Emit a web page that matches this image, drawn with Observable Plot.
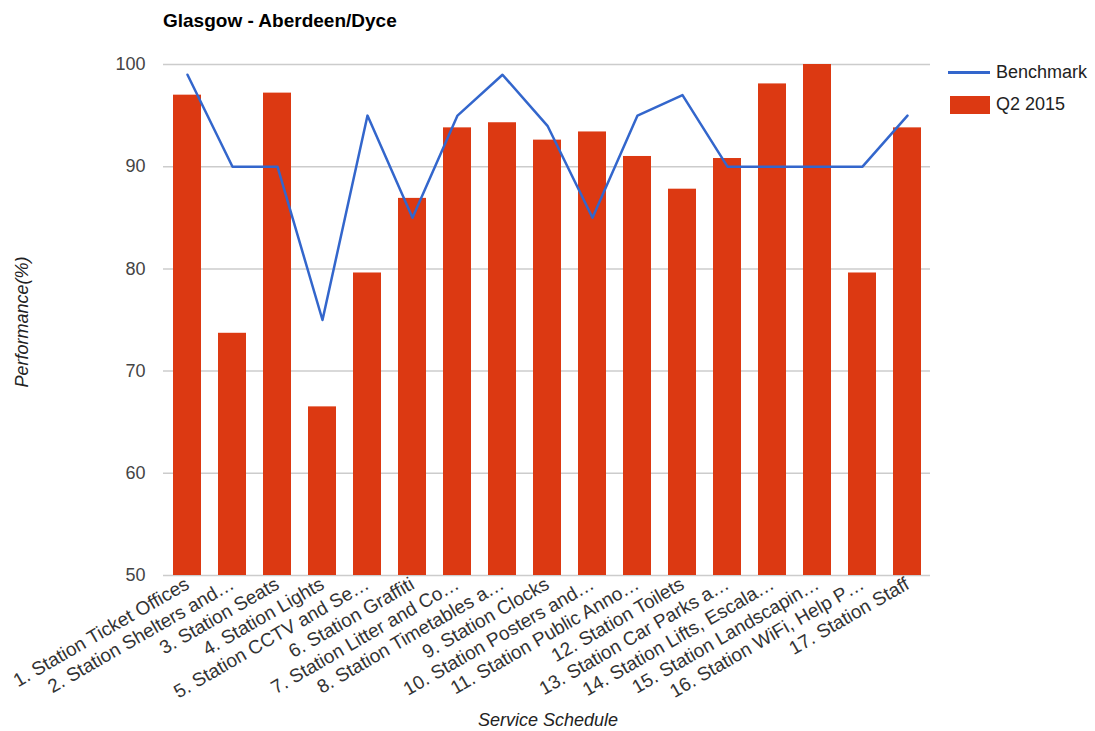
<!DOCTYPE html>
<html>
<head>
<meta charset="utf-8">
<script src="https://cdn.jsdelivr.net/npm/d3@7"></script>
<script src="https://cdn.jsdelivr.net/npm/@observablehq/plot@0.6"></script>
<style>
  html, body { margin: 0; padding: 0; background: #fff; }
  #wrap { position: relative; width: 1095px; height: 731px; font-family: "Liberation Sans", Arial, sans-serif; }
  .abs { position: absolute; white-space: nowrap; }
  #title { left: 163px; top: 10px; font-size: 19px; font-weight: bold; color: #000; }
  #ytitle { left: 22px; top: 322px; font-size: 18px; font-style: italic; color: #222; transform: translate(-50%, -50%) rotate(-90deg); }
  #xtitle { left: 548px; top: 720px; font-size: 18px; font-style: italic; color: #222; transform: translate(-50%, -50%); }
  .leg { font-size: 18px; color: #222; }
</style>
</head>
<body>
<div id="wrap">
  <div id="chart"></div>
  <div id="title" class="abs">Glasgow - Aberdeen/Dyce</div>
  <div id="ytitle" class="abs">Performance(%)</div>
  <div id="xtitle" class="abs">Service Schedule</div>
  <div class="abs" style="left:948px; top:71px; width:42px; height:3px; background:#3366cc;"></div>
  <div class="abs leg" style="left:996px; top:62px;">Benchmark</div>
  <div class="abs" style="left:950px; top:96px; width:40px; height:18px; background:#dc3912;"></div>
  <div class="abs leg" style="left:996px; top:94px;">Q2 2015</div>
</div>
<script>
const categories = [
  "1. Station Ticket Offices",
  "2. Station Shelters and…",
  "3. Station Seats",
  "4. Station Lights",
  "5. Station CCTV and Se…",
  "6. Station Graffiti",
  "7. Station Litter and Co…",
  "8. Station Timetables a…",
  "9. Station Clocks",
  "10. Station Posters and…",
  "11. Station Public Anno…",
  "12. Station Toilets",
  "13. Station Car Parks a…",
  "14. Station Lifts, Escala…",
  "15. Station Landscapin…",
  "16. Station WiFi, Help P…",
  "17. Station Staff"
];
const q2_2015 = [97.0, 73.7, 97.2, 66.5, 79.6, 86.9, 93.8, 94.3, 92.6, 93.4, 91.0, 87.8, 90.8, 98.1, 100, 79.6, 93.8];
const benchmark = [99, 90, 90, 75, 95, 85, 95, 99, 94, 85, 95, 97, 90, 90, 90, 90, 95];
const yTicks = [50, 60, 70, 80, 90, 100];

const data = categories.map((c, i) => ({cat: c, q2: q2_2015[i], bench: benchmark[i]}));

const chart = Plot.plot({
  width: 1095,
  height: 731,
  marginTop: 64,
  marginBottom: 156,
  marginLeft: 163,
  marginRight: 165,
  style: {fontFamily: "'Liberation Sans', Arial, sans-serif", fontSize: "18px", color: "#444", background: "transparent"},
  x: {domain: categories, paddingInner: 0.38, paddingOuter: 0.19, label: null},
  y: {domain: [50, 100], clamp: true, label: null},
  marks: [
    Plot.gridY(yTicks, {stroke: "#cccccc", strokeOpacity: 1, strokeWidth: 1.5}),
    Plot.barY(data, {x: "cat", y: "q2", fill: "#dc3912"}),
    Plot.lineY(data, {x: "cat", y: "bench", stroke: "#3366cc", strokeWidth: 2.5}),
    Plot.axisY(yTicks, {tickSize: 0, tickPadding: 18, fill: "#444", fontSize: 18, label: null}),
    Plot.axisX({tickSize: 0, tickPadding: 7, tickRotate: -30, fill: "#333", fontSize: 19, label: null})
  ]
});
document.getElementById("chart").appendChild(chart);
</script>
</body>
</html>
